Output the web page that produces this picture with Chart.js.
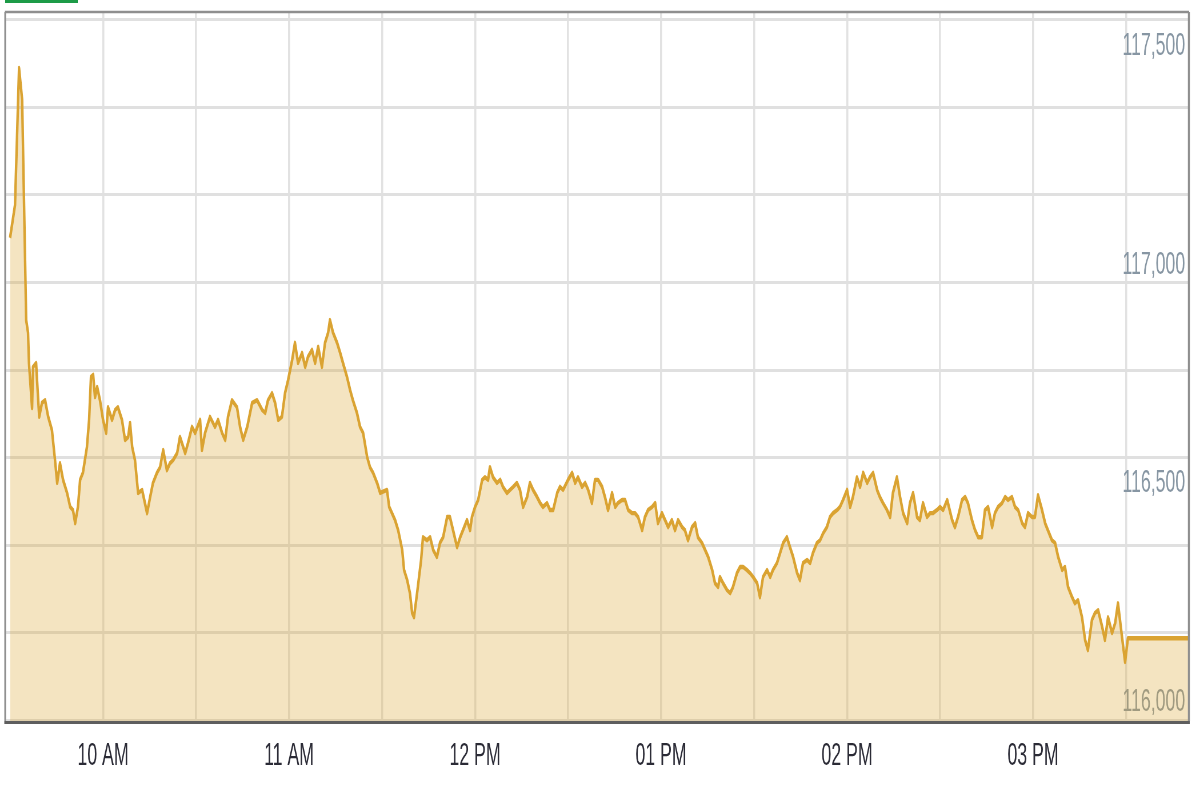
<!DOCTYPE html>
<html><head><meta charset="utf-8">
<script src="https://cdn.jsdelivr.net/npm/chart.js@4.4.1/dist/chart.umd.min.js"></script>
<style>
html,body{margin:0;padding:0;background:#fff;width:1200px;height:800px;overflow:hidden}
#tab{position:absolute;left:5px;top:0;width:73px;height:3px;background:#1d9b47}
#c{position:absolute;left:0;top:0}
</style></head><body>
<div id="tab"></div>
<canvas id="c" width="2100" height="800" style="width:1200px;height:800px"></canvas>
<script>
// minutes after the 09:30 open
const minutesFromOpen = [
0,1.6,2.9,3.9,5.2,5.8,6.1,7.1,7.4,8.4,8.7,9.4,10.3,11.3,12.3,13.5,14.5,15.2,16.1,17.1,18.4,19.4,20.3,21.0,21.9,22.6,23.5,24.8,25.5,26.1,26.8,27.4,28.1,29.0,30.0,31.0,31.6,32.9,33.9,34.8,36.1,37.1,38.1,38.7,39.4,40.3,41.3,42.6,44.2,45.2,46.1,47.4,48.4,49.4,50.6,51.6,52.6,53.9,54.8,
56.5,57.4,58.7,59.7,61.3,61.9,62.9,64.5,66.1,67.1,68.4,69.4,70.3,71.6,73.2,74.2,75.2,76.5,78.1,79.7,81.3,82.3,83.2,84.5,85.5,86.5,87.7,88.7,89.7,91.0,91.9,92.9,94.2,95.2,96.1,97.4,98.4,99.4,100.6,101.6,102.6,103.2,104.2,105.5,106.5,107.4,108.7,109.7,110.6,111.9,112.9,113.9,115.2,116.1,117.1,118.4,119.4,
121.6,122.3,123.2,124.2,125.2,126.5,127.1,128.1,129.0,129.7,130.3,131.3,132.6,133.2,134.5,135.5,136.5,137.7,138.7,139.7,141.0,141.9,142.9,144.2,145.2,146.1,147.4,148.4,149.0,150.0,151.0,152.3,153.2,154.2,154.8,155.8,157.1,158.1,159.0,160.3,161.3,162.3,163.5,164.5,165.5,166.8,167.7,168.7,170.0,171.0,171.9,173.2,174.2,175.2,176.5,177.4,178.4,
180.0,181.3,182.3,183.2,184.5,185.5,186.5,187.7,188.7,189.7,191.0,191.9,192.9,194.2,195.2,196.1,197.4,198.4,199.4,200.6,201.6,202.6,203.9,204.8,205.8,207.1,208.1,209.0,210.3,211.3,212.3,213.5,214.5,215.5,216.8,217.7,218.7,220.0,221.0,221.9,223.2,224.2,225.2,226.5,227.4,228.4,229.0,230.0,231.3,232.3,233.2,234.5,235.5,236.5,237.7,238.7,239.7,241.0,241.9,
242.9,244.2,245.2,246.1,247.4,248.4,249.4,250.6,251.6,252.6,253.9,254.8,255.8,257.1,258.1,259.0,260.3,261.3,262.3,263.5,264.5,265.5,266.8,267.7,268.7,270.0,271.0,271.9,273.2,274.2,275.2,276.5,277.4,278.4,279.7,280.6,281.6,282.9,283.9,284.8,286.1,287.1,288.1,289.4,290.3,291.3,292.6,293.5,294.5,295.8,296.8,297.7,299.0,300.0,301.0,302.3,
303.9,304.8,305.8,307.1,308.1,309.0,310.3,311.3,312.3,313.5,314.5,315.5,316.8,317.7,318.7,320.0,321.0,321.9,323.2,324.2,325.2,326.5,327.4,328.4,329.7,330.6,331.6,332.9,333.9,334.8,336.1,337.1,338.1,339.4,340.3,341.3,342.6,343.5,344.5,345.8,346.8,347.7,349.0,350.0,351.0,352.3,353.2,354.2,355.5,356.5,357.4,358.7,359.7,360.6,380
];
const prices = [
117062,117137,117450,117377,116874,116845,116776,116673,116767,116776,116737,116653,116685,116691,116653,116623,116554,116502,116547,116509,116479,116447,116440,116410,116447,116509,116525,116584,116646,116744,116749,116698,116721,116691,116646,116616,116675,116646,116669,116675,116646,116600,116607,116639,116584,116554,116479,116486,116433,116470,116502,116525,116538,116577,116531,116547,116554,116570,116607,
116570,116593,116630,116616,116646,116577,116616,116653,116630,116646,116616,116600,116653,116691,116675,116630,116600,116630,116685,116691,116669,116662,116691,116707,116685,116646,116653,116707,116737,116783,116822,116776,116799,116767,116790,116806,116776,116813,116767,116822,116845,116874,116845,116822,116799,116776,116744,116714,116691,116662,116630,116616,116561,116538,116525,116502,116479,
116486,116447,116433,116417,116394,116349,116303,116280,116250,116205,116195,116250,116326,116378,116371,116378,116349,116333,116365,116378,116424,116424,116394,116355,116378,116394,116417,116394,116424,116447,116463,116509,116515,116509,116538,116515,116502,116509,116493,116479,116486,116493,116502,116486,116447,116470,116502,116486,116470,116456,116447,116456,116440,116440,116479,116493,116486,
116509,116525,116502,116515,116493,116502,116486,116456,116509,116509,116493,116470,116440,116479,116447,116456,116463,116463,116440,116433,116433,116424,116394,116424,116440,116447,116456,116410,116433,116417,116401,116417,116394,116417,116401,116394,116371,116401,116410,116378,116365,116349,116333,116303,116273,116264,116287,116273,116257,116250,116264,116296,116310,116310,116303,116296,116287,116273,116241,
116287,116303,116287,116303,116319,116342,116365,116378,116355,116333,116296,116280,116319,116326,116319,116342,116365,116371,116387,116401,116424,116433,116440,116447,116463,116486,116447,116470,116515,116493,116525,116502,116515,116525,116486,116470,116456,116440,116424,116479,116515,116470,116433,116410,116456,116479,116424,116417,116456,116424,116433,116433,116440,116447,116440,116463,
116417,116401,116424,116463,116470,116456,116417,116394,116378,116378,116440,116447,116401,116433,116447,116456,116470,116463,116470,116447,116440,116410,116401,116433,116424,116424,116474,116440,116410,116394,116371,116365,116333,116303,116310,116264,116241,116227,116234,116195,116143,116120,116189,116205,116211,116173,116143,116195,116159,116182,116227,116150,116093,116147,116147
];
const gridMinutes = [30,60,90,120,150,180,210,240,270,300,330,360];
const timeLabelMinutes = [30,90,150,210,270,330];
const timeLabels = ['10 AM','11 AM','12 PM','01 PM','02 PM','03 PM'];
const gridPrices = [115960,116160,116360,116560,116760,116960,117160,117360,117560];
const priceLabels = [116000,116500,117000,117500];

const Y_MIN = 115958, Y_MAX = 117578;
const FONT = "'Liberation Sans', Arial, sans-serif";

const noPad = s => { s.paddingTop = 0; s.paddingBottom = 0; s.paddingLeft = 0; s.paddingRight = 0; };

const framePlugin = {
  id: 'frame',
  afterDraw(chart) {
    const {ctx, chartArea: a} = chart;
    ctx.save();
    ctx.strokeStyle = '#8e8e8e';
    ctx.lineWidth = 2.5;
    ctx.beginPath(); ctx.moveTo(a.left - 2, a.top); ctx.lineTo(a.right + 2, a.top); ctx.stroke();
    ctx.lineWidth = 3;
    ctx.beginPath(); ctx.moveTo(a.left - 1.5, a.top); ctx.lineTo(a.left - 1.5, a.bottom); ctx.stroke();
    ctx.lineWidth = 3.5;
    ctx.beginPath(); ctx.moveTo(a.right + 1.5, a.top); ctx.lineTo(a.right + 1.5, a.bottom); ctx.stroke();
    ctx.strokeStyle = '#5e5e5e';
    ctx.lineWidth = 3;
    ctx.beginPath(); ctx.moveTo(a.left - 3, a.bottom + 1.5); ctx.lineTo(a.right + 3, a.bottom + 1.5); ctx.stroke();
    ctx.restore();
  }
};

new Chart(document.getElementById('c'), {
  type: 'line',
  data: {
    datasets: [{
      data: minutesFromOpen.map((m, i) => ({x: m, y: prices[i]})),
      borderColor: '#daa332',
      borderWidth: 4.4,
      borderJoinStyle: 'round',
      backgroundColor: 'rgba(218,165,50,0.3)',
      fill: 'start',
      pointRadius: 0,
      tension: 0
    }]
  },
  options: {
    responsive: false,
    animation: false,
    devicePixelRatio: 1,
    layout: {padding: {left: 10.5, top: 12, right: 0, bottom: 0}},
    plugins: {legend: {display: false}, tooltip: {enabled: false}},
    scales: {
      x: {
        type: 'linear', min: -1.3, max: 380,
        afterBuildTicks: s => { s.ticks = gridMinutes.map(v => ({value: v})); },
        ticks: {
          autoSkip: false, maxRotation: 0, padding: 17, color: '#2b2b36',
          font: {family: FONT, size: 31},
          callback: v => { const i = timeLabelMinutes.indexOf(v); return i >= 0 ? timeLabels[i] : ''; }
        },
        grid: {color: '#e2e2e2', lineWidth: 3.5, drawTicks: false},
        border: {display: false},
        afterFit: s => { s.height = 79; noPad(s); }
      },
      y: {
        position: 'right', min: Y_MIN, max: Y_MAX,
        afterBuildTicks: s => { s.ticks = gridPrices.map(v => ({value: v})); },
        ticks: {display: false},
        grid: {color: '#e0e0e0', lineWidth: 3, drawTicks: false},
        border: {display: false},
        afterFit: s => { s.width = 21; noPad(s); }
      },
      y2: {
        position: 'right', min: Y_MIN, max: Y_MAX,
        afterBuildTicks: s => { s.ticks = priceLabels.map(v => ({value: v})); },
        ticks: {
          mirror: true, padding: -26, color: '#8796a3',
          font: {family: FONT, size: 31},
          callback: v => v.toLocaleString('en-US')
        },
        grid: {display: false},
        border: {display: false},
        afterFit: s => { s.width = 0; noPad(s); }
      }
    }
  },
  plugins: [framePlugin]
});
</script>
</body></html>
